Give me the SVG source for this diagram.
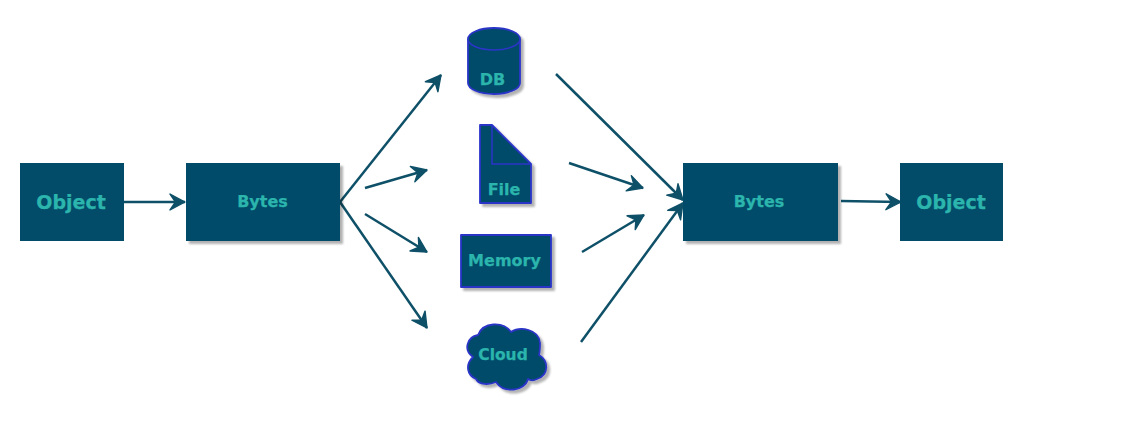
<svg xmlns="http://www.w3.org/2000/svg" width="1137" height="421" viewBox="0 0 1137 421">
<defs>
<marker id="arrow" markerUnits="userSpaceOnUse" markerWidth="22" markerHeight="22" refX="17" refY="10" orient="auto" viewBox="0 0 22 20">
<path d="M2 2 L17 10 L2 18 L7.500 10 Z" fill="#0e5068" stroke="#0e5068" stroke-width="1.400" stroke-linejoin="round"/>
</marker>
<filter id="sh" x="-10%" y="-10%" width="125%" height="125%"><feDropShadow dx="3" dy="3" stdDeviation="1.200" flood-color="#000" flood-opacity="0.300"/></filter>
</defs>
<style>
.box{fill:#024b69;filter:url(#sh)}
.plain{fill:#024b69}
.shape{fill:#024b69;stroke:#2b35c8;stroke-width:1.800;stroke-linejoin:round;filter:url(#sh)}
.inner{fill:none;stroke:#2b35c8;stroke-width:1.500}
.c{fill:none;stroke:#0e5068;stroke-width:2.500;marker-end:url(#arrow)}
text{font-family:"DejaVu Sans",sans-serif;font-weight:700;fill:#2bb5ad;text-anchor:middle;stroke:#2bb5ad;stroke-width:0.250}
.lg{font-size:19px}
.md{font-size:16px}
.sm{font-size:15.500px}
</style>
<rect width="1137" height="421" fill="#fff"/>
<g id="connectors">
<path class="c" d="M124 202 L185 202"/>
<path class="c" d="M340 202 L441 75"/>
<path class="c" d="M365 188 L427 170"/>
<path class="c" d="M365 214 L427 252"/>
<path class="c" d="M340 202 L427 328"/>
<path class="c" d="M556 74 L683 200"/>
<path class="c" d="M569 163 L643 188"/>
<path class="c" d="M582 252 L644 215"/>
<path class="c" d="M581 342 L683 203"/>
<path class="c" d="M841 201 L901 202"/>
</g>
<g id="object-in"><rect class="plain" x="20" y="163" width="104" height="78"/><text class="lg" x="71" y="209">Object</text></g>
<g id="bytes-in"><rect class="box" x="186" y="163" width="154" height="78"/><text class="md" x="262.500" y="207">Bytes</text></g>
<g id="db"><path class="shape" d="M468 39 A26 11 0 0 1 520 39 L520 83 A26 11 0 0 1 468 83 Z"/><path class="inner" d="M468 39 A26 11 0 0 0 520 39"/><text class="md" x="492.500" y="85">DB</text></g>
<g id="file"><path class="shape" d="M480 125 L492 125 L531 164 L531 203 L480 203 Z"/><path class="inner" d="M492 125 L492 164 L531 164"/><text class="md" x="504" y="195">File</text></g>
<g id="memory"><rect class="shape" x="461" y="235" width="90" height="52"/><text class="md" x="504.500" y="266">Memory</text></g>
<g id="cloud"><path class="shape" d="M473 357 C463 350 467 337 478 335 C483 322 503 321 511 332 C520 326 539 329 540 343 C540 347 540 351 539 355 C549 361 549 375 537 379 C533 381 531 381 528 379 C525 391 504 394 496 382 C489 385 479 385 476 379 C467 375 465 365 473 357 Z"/><text class="sm" x="503" y="360">Cloud</text></g>
<g id="bytes-out"><rect class="box" x="683" y="163" width="155" height="78"/><text class="md" x="759" y="207">Bytes</text></g>
<g id="object-out"><rect class="plain" x="900" y="163" width="103" height="78"/><text class="lg" x="951" y="209">Object</text></g>
</svg>
